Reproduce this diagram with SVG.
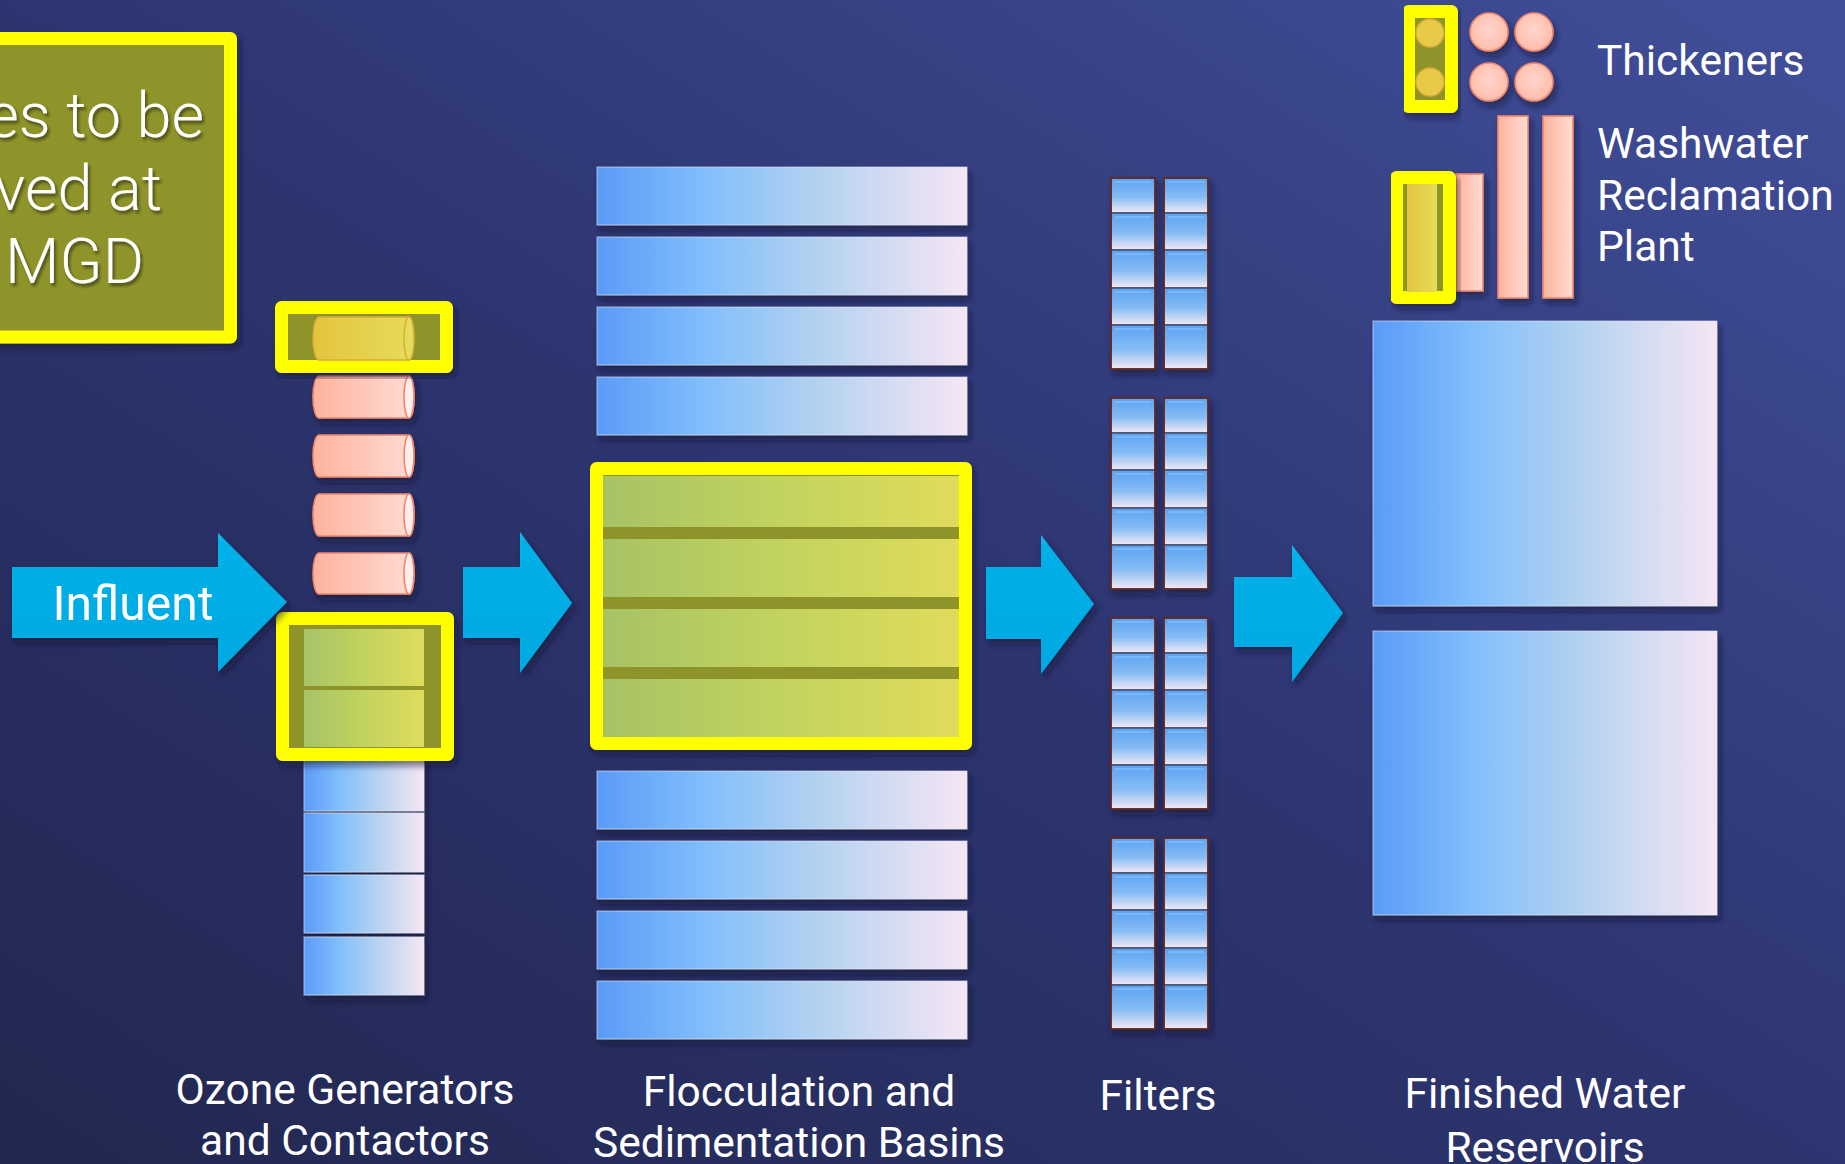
<svg xmlns="http://www.w3.org/2000/svg" xmlns:xlink="http://www.w3.org/1999/xlink" width="1845" height="1164" viewBox="0 0 1845 1164">
  <defs>
    <linearGradient id="bg" x1="1" y1="0" x2="0" y2="1">
      <stop offset="0" stop-color="#414f9b"/>
      <stop offset="0.5" stop-color="#2d3570"/>
      <stop offset="1" stop-color="#222750"/>
    </linearGradient>
    <linearGradient id="water" x1="0" y1="0" x2="1" y2="0">
      <stop offset="0" stop-color="#5a9bf8"/>
      <stop offset="0.3" stop-color="#82bffb"/>
      <stop offset="0.6" stop-color="#b4d2f0"/>
      <stop offset="1" stop-color="#f6e6f4"/>
    </linearGradient>
    <linearGradient id="cell" x1="0" y1="0" x2="0" y2="1">
      <stop offset="0" stop-color="#5ba2f3"/>
      <stop offset="0.55" stop-color="#86bcf4"/>
      <stop offset="1" stop-color="#f3e9f5"/>
    </linearGradient>
    <linearGradient id="green" x1="0" y1="0" x2="1" y2="0">
      <stop offset="0" stop-color="#a7c366"/>
      <stop offset="0.5" stop-color="#c2d35e"/>
      <stop offset="1" stop-color="#e0dc5c"/>
    </linearGradient>
    <linearGradient id="pink" x1="0" y1="0" x2="1" y2="0">
      <stop offset="0" stop-color="#ffb39c"/>
      <stop offset="1" stop-color="#ffdcd3"/>
    </linearGradient>
    <radialGradient id="pinkDot" cx="0.5" cy="0.45" r="0.55">
      <stop offset="0" stop-color="#ffd6cc"/>
      <stop offset="1" stop-color="#ffbcaa"/>
    </radialGradient>
    <linearGradient id="gold" x1="0" y1="0" x2="1" y2="0">
      <stop offset="0" stop-color="#e4c43e"/>
      <stop offset="1" stop-color="#e6dc5a"/>
    </linearGradient>
    <linearGradient id="arrowFill" x1="0" y1="0" x2="0" y2="1">
      <stop offset="0" stop-color="#14bdf0"/>
      <stop offset="0.08" stop-color="#02b0e8"/>
      <stop offset="1" stop-color="#00a9e2"/>
    </linearGradient>
    <filter id="shadow" x="-10%" y="-10%" width="130%" height="130%">
      <feDropShadow dx="3" dy="5" stdDeviation="3" flood-color="#0c1030" flood-opacity="0.55"/>
    </filter>
    <filter id="textShadow" x="-10%" y="-20%" width="130%" height="150%">
      <feDropShadow dx="2" dy="3" stdDeviation="1.5" flood-color="#1a1a10" flood-opacity="0.6"/>
    </filter>
    <!-- one filter bed: five cells stacked -->
    <g id="filterColumn">
      <rect x="0" y="0" width="44" height="35" class="cell"/>
      <rect x="0" y="35" width="44" height="37" class="cell"/>
      <rect x="0" y="72" width="44" height="38" class="cell"/>
      <rect x="0" y="110" width="44" height="37" class="cell"/>
      <rect x="0" y="147" width="44" height="44" class="cell"/>
      <path d="M4,4 H40 M4,39 H40 M4,76 H40 M4,114 H40 M4,151 H40" stroke="#a8d6ff" stroke-width="1" opacity="0.7"/>
      <rect x="0" y="0" width="44" height="191" fill="none" stroke="#6a2418" stroke-width="1.6"/>
    </g>
  </defs>
  <style>
    .label { font-family: Roboto, "Liberation Sans", sans-serif; font-size: 42.5px; fill: #ffffff; }
    .note { font-family: Roboto, "Liberation Sans", sans-serif; font-weight: 300; font-size: 63px; fill: #ffffff; }
    .hl { fill: #8f9429; stroke: #ffff00; stroke-width: 13; stroke-linejoin: round; }
    .basin { fill: url(#water); stroke: #e6ecf8; stroke-opacity: 0.5; stroke-width: 1.2; }
    .cell { fill: url(#cell); stroke: #3a3c55; stroke-width: 1.2; }
    .band { fill: url(#green); }
    .pinkcyl { fill: url(#pink); stroke: #f2866c; stroke-width: 1.6; }
    .cap { fill: #ffeeec; stroke: #f2866c; stroke-width: 1.6; }
    .arrow { fill: url(#arrowFill); }
  </style>

  <rect width="1845" height="1164" fill="url(#bg)"/>

  <!-- note box, running off the left edge -->
  <g id="note">
    <rect class="hl" x="-100" y="38.5" width="330.5" height="298.5" filter="url(#shadow)"/>
    <g filter="url(#textShadow)">
      <text class="note" x="204" y="137" text-anchor="end">es to be</text>
      <text class="note" x="162" y="210" text-anchor="end">ved at</text>
      <text class="note" x="144" y="283" text-anchor="end">MGD</text>
    </g>
  </g>

  <!-- ozone generators (cylinders) and contactors (cells) -->
  <g id="ozone">
    <g filter="url(#shadow)">
      <rect class="basin" x="304" y="752" width="120" height="59"/>
      <rect class="basin" x="304" y="813" width="120" height="59"/>
      <rect class="basin" x="304" y="875" width="120" height="58"/>
      <rect class="basin" x="304" y="937" width="120" height="58"/>
    </g>
    <g filter="url(#shadow)">
      <path class="pinkcyl" d="M319,376 H409 A5,21 0 0 1 409,418 H319 A6,21 0 0 1 319,376 Z"/>
      <ellipse class="cap" cx="409" cy="397" rx="5" ry="21"/>
      <path class="pinkcyl" d="M319,435 H409 A5,21 0 0 1 409,477 H319 A6,21 0 0 1 319,435 Z"/>
      <ellipse class="cap" cx="409" cy="456" rx="5" ry="21"/>
      <path class="pinkcyl" d="M319,494 H409 A5,21 0 0 1 409,536 H319 A6,21 0 0 1 319,494 Z"/>
      <ellipse class="cap" cx="409" cy="515" rx="5" ry="21"/>
      <path class="pinkcyl" d="M319,553 H409 A5,20.5 0 0 1 409,594 H319 A6,20.5 0 0 1 319,553 Z"/>
      <ellipse class="cap" cx="409" cy="573.5" rx="5" ry="20.5"/>
    </g>
    <!-- highlighted generator -->
    <rect class="hl" x="281.5" y="307.5" width="165" height="59" filter="url(#shadow)"/>
    <path d="M319,317 H409 A5,21.5 0 0 1 409,360 H319 A6,21.5 0 0 1 319,317 Z" fill="url(#gold)" stroke="#d9ac3a" stroke-width="1.4"/>
    <ellipse cx="409" cy="338.5" rx="5" ry="21.5" fill="#e6dc5c" stroke="#d9ac3a" stroke-width="1.4"/>
    <!-- highlighted contactors -->
    <rect class="hl" x="282.5" y="618.5" width="165" height="136" filter="url(#shadow)"/>
    <rect class="band" x="304" y="629" width="120" height="57"/>
    <rect class="band" x="304" y="690" width="120" height="57"/>
  </g>

  <!-- flocculation and sedimentation basins -->
  <g id="flocculation">
    <g filter="url(#shadow)">
      <rect class="basin" x="597" y="167" width="370" height="58"/>
      <rect class="basin" x="597" y="237" width="370" height="58"/>
      <rect class="basin" x="597" y="307" width="370" height="58"/>
      <rect class="basin" x="597" y="377" width="370" height="58"/>
      <rect class="basin" x="597" y="771" width="370" height="58"/>
      <rect class="basin" x="597" y="841" width="370" height="58"/>
      <rect class="basin" x="597" y="911" width="370" height="58"/>
      <rect class="basin" x="597" y="981" width="370" height="58"/>
    </g>
    <rect class="hl" x="596.5" y="468.5" width="369" height="275" filter="url(#shadow)"/>
    <rect class="band" x="603" y="476" width="356" height="51"/>
    <rect class="band" x="603" y="539" width="356" height="58"/>
    <rect class="band" x="603" y="609" width="356" height="58"/>
    <rect class="band" x="603" y="679" width="356" height="58"/>
  </g>

  <!-- filter beds -->
  <g id="filters" filter="url(#shadow)">
    <use xlink:href="#filterColumn" x="1111" y="178"/>
    <use xlink:href="#filterColumn" x="1164" y="178"/>
    <use xlink:href="#filterColumn" x="1111" y="398"/>
    <use xlink:href="#filterColumn" x="1164" y="398"/>
    <use xlink:href="#filterColumn" x="1111" y="618"/>
    <use xlink:href="#filterColumn" x="1164" y="618"/>
    <use xlink:href="#filterColumn" x="1111" y="838"/>
    <use xlink:href="#filterColumn" x="1164" y="838"/>
  </g>

  <!-- finished water reservoirs -->
  <g id="reservoirs" filter="url(#shadow)">
    <rect class="basin" x="1373" y="321" width="344" height="285"/>
    <rect class="basin" x="1373" y="631" width="344" height="284"/>
  </g>

  <!-- thickeners -->
  <g id="thickeners">
    <g filter="url(#shadow)">
      <circle cx="1489" cy="32" r="19" fill="url(#pinkDot)" stroke="#f2866c" stroke-width="1.6"/>
      <circle cx="1534" cy="32" r="19" fill="url(#pinkDot)" stroke="#f2866c" stroke-width="1.6"/>
      <circle cx="1489" cy="82" r="19" fill="url(#pinkDot)" stroke="#f2866c" stroke-width="1.6"/>
      <circle cx="1534" cy="82" r="19" fill="url(#pinkDot)" stroke="#f2866c" stroke-width="1.6"/>
    </g>
    <rect class="hl" x="1408.5" y="11.5" width="43" height="95" filter="url(#shadow)"/>
    <circle cx="1430" cy="33" r="14" fill="#e6ca48" stroke="#d9ac3a" stroke-width="1.4"/>
    <circle cx="1430" cy="82" r="14" fill="#e6ca48" stroke="#d9ac3a" stroke-width="1.4"/>
    <text class="label" x="1597" y="75">Thickeners</text>
  </g>

  <!-- washwater reclamation plant -->
  <g id="washwater">
    <g filter="url(#shadow)">
      <rect class="pinkcyl" x="1456" y="174" width="27" height="117"/>
      <rect class="pinkcyl" x="1498" y="116" width="30" height="182"/>
      <rect class="pinkcyl" x="1543" y="116" width="30" height="182"/>
    </g>
    <rect class="hl" x="1396.5" y="177.5" width="53" height="120" filter="url(#shadow)"/>
    <rect x="1407" y="184" width="30" height="108" fill="url(#gold)"/>
    <text class="label" x="1597" y="158">Washwater</text>
    <text class="label" x="1597" y="210">Reclamation</text>
    <text class="label" x="1597" y="261">Plant</text>
  </g>

  <!-- flow arrows between stages -->
  <g id="flow" filter="url(#shadow)">
    <path class="arrow" d="M12,567 H218 V533 L287,602 L218,672 V638 H12 Z"/>
    <text x="133" y="620" text-anchor="middle" font-family="Roboto, 'Liberation Sans', sans-serif" font-size="48" fill="#ffffff">Influent</text>
    <path class="arrow" d="M463,567 H520 V532 L572,603 L520,673 V638 H463 Z"/>
    <path class="arrow" d="M986,567 H1041 V535 L1094,604 L1041,674 V639 H986 Z"/>
    <path class="arrow" d="M1234,577 H1292 V545 L1343,613 L1292,682 V647 H1234 Z"/>
  </g>

  <!-- stage captions -->
  <g id="captions">
    <text class="label" x="345" y="1104" text-anchor="middle">Ozone Generators</text>
    <text class="label" x="345" y="1155" text-anchor="middle">and Contactors</text>
    <text class="label" x="799" y="1106" text-anchor="middle">Flocculation and</text>
    <text class="label" x="799" y="1157" text-anchor="middle">Sedimentation Basins</text>
    <text class="label" x="1158" y="1110" text-anchor="middle">Filters</text>
    <text class="label" x="1545" y="1108" text-anchor="middle">Finished Water</text>
    <text class="label" x="1545" y="1162" text-anchor="middle">Reservoirs</text>
  </g>
</svg>
